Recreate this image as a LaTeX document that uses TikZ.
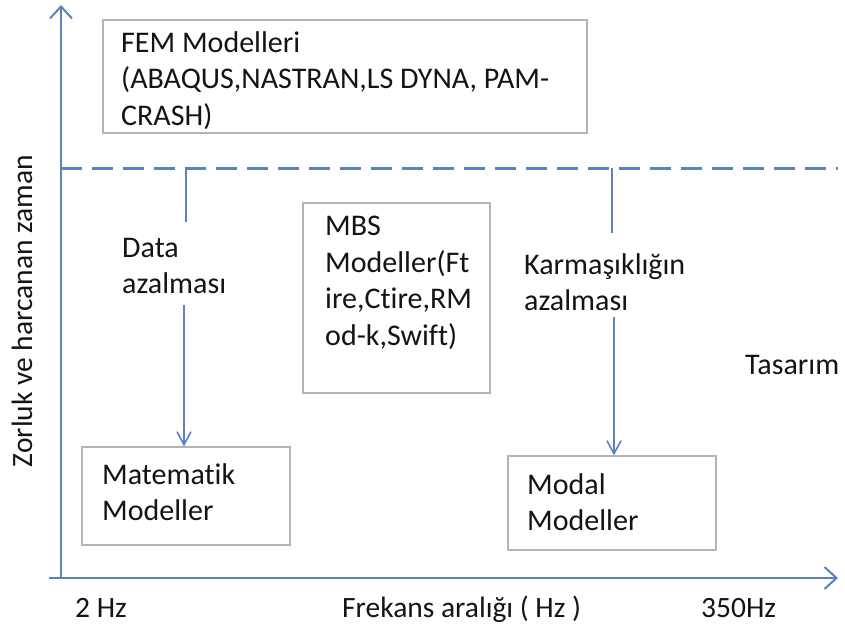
\documentclass[tikz,border=0pt]{standalone}
\usepackage{fontspec}
\setmainfont[Ligatures=NoCommon]{Carlito}
\usetikzlibrary{arrows.meta}
\definecolor{axisblue}{HTML}{5B83C0}
\definecolor{boxgray}{HTML}{B4B4B4}
\definecolor{txt}{HTML}{141414}
\tikzset{
  modelbox/.style={draw=boxgray, line width=1.2pt, fill=white, inner sep=0pt},
  lbl/.style={text=txt, inner sep=0pt, align=left, anchor=north west,
              font=\fontsize{30}{36.5}\selectfont},
  axislbl/.style={text=txt, inner sep=0pt, font=\fontsize{29.5}{32}\selectfont},
  axisline/.style={draw=axisblue, line width=2pt},
  axisarrow/.style={-{Straight Barb[length=12pt,width=22pt,line width=2pt]}},
  flow/.style={draw=axisblue, line width=1.6pt},
  flowarrow/.style={-{Straight Barb[length=13pt,width=14pt,line width=1.6pt]}},
  limit/.style={draw=axisblue, line width=3pt, dash pattern=on 21pt off 10pt},
}
\begin{document}
\begin{tikzpicture}[x=1pt,y=-1pt]
\useasboundingbox (0,0) rectangle (845,634);

% axes
\coordinate (origin) at (61,578);
\coordinate (ytop) at (61,5);
\coordinate (xstart) at (49,578);
\coordinate (xend) at (838,578);
\draw[axisline, axisarrow] (origin) -- (ytop);
\draw[axisline, axisarrow] (xstart) -- (xend);

% dashed boundary line
\coordinate (dashL) at (61,168);
\coordinate (dashR) at (838,168);
\draw[limit] (dashL) -- (dashR);

% model boxes
\node[modelbox, minimum width=484pt, minimum height=113pt] (fem) at (345,76.5) {};
\node[modelbox, minimum width=187pt, minimum height=190pt] (mbs) at (396.5,298) {};
\node[modelbox, minimum width=208pt, minimum height=98pt] (mat) at (186,496) {};
\node[modelbox, minimum width=208pt, minimum height=94pt] (modal) at (612,503) {};

% box texts
\node[lbl] (femtxt) at (121,31) {FEM Modelleri\\(ABAQUS,NASTRAN,LS DYNA, PAM-\\CRASH)};
\node[lbl] (mbstxt) at (325,216) {MBS\\Modeller(Ft\\ire,Ctire,RM\\od-k,Swift)};
\node[lbl] (mattxt) at (102,463) {Matematik\\Modeller};
\node[lbl] (modaltxt) at (527,473) {Modal\\Modeller};

% flow labels
\node[lbl] (data) at (122,238) {Data\\azalması};
\node[lbl] (karm) at (524,253) {Karmaşıklığın\\azalması};
\node[lbl] (tas) at (745,355) {Tasarım};

% flow connectors
\coordinate (d1) at (186,168);
\coordinate (d2) at (186,222);
\coordinate (d3) at (184,305);
\draw[flow] (d1) -- (d2);
\draw[flow, flowarrow] (d3) -- (d3 |- mat.north);
\coordinate (k1) at (612,168);
\coordinate (k2) at (612,233);
\coordinate (k3) at (614,317);
\draw[flow] (k1) -- (k2);
\draw[flow, flowarrow] (k3) -- (k3 |- modal.north);

% axis labels
\node[axislbl, rotate=90] (ylbl) at (22,311) {Zorluk ve harcanan zaman};
\node[axislbl, anchor=base west] (f2) at (75,617) {2 Hz};
\node[axislbl, anchor=base west] (fname) at (342,617) {Frekans aralığı ( Hz )};
\node[axislbl, anchor=base west] (f350) at (701,617) {350Hz};
\end{tikzpicture}
\end{document}
